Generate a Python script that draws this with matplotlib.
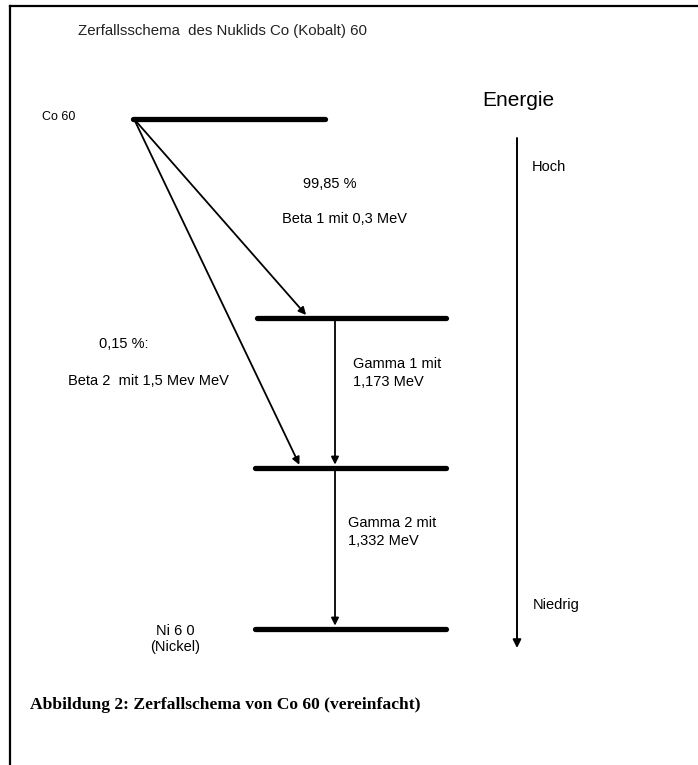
import matplotlib
matplotlib.use("Agg")
import matplotlib.pyplot as plt

# energy levels of the decay scheme (pixel-like diagram coordinates)
level_names = ["Co 60", "Ni 60*", "Ni 60*", "Ni 60"]
level_y = [119, 318, 468, 629]
level_x0 = [133, 257, 255, 255]
level_x1 = [325, 446, 446, 446]

# beta decays from Co 60
beta_share = ["99,85 %", "0,15 %:"]
beta_text = ["Beta 1 mit 0,3 MeV", "Beta 2  mit 1,5 Mev MeV"]
beta_end_x = [307, 300]
beta_to = [1, 2]

# gamma transitions
gamma_labels = ["Gamma 1 mit\n1,173 MeV", "Gamma 2 mit\n1,332 MeV"]
gamma_x = 335
gamma_from = [1, 2]
gamma_to = [2, 3]

fig = plt.figure(figsize=(6.98, 7.65), dpi=100)
ax = fig.add_axes([0, 0, 1, 1])
ax.set_xlim(0, 698)
ax.set_ylim(765, 0)
ax.axis("off")

sans = "Liberation Sans"
fs = 10.5

# frame (top and left edges visible)
ax.plot([10, 698], [6, 6], color="black", lw=1.6)
ax.plot([10, 10], [6, 765], color="black", lw=1.6)

ax.text(78, 31, "Zerfallsschema  des Nuklids Co (Kobalt) 60", fontsize=10.8,
        family=sans, color="#222222", va="center")

# levels
ax.hlines(level_y, level_x0, level_x1, colors="black", lw=3.8, capstyle="round")

arrow = dict(arrowstyle="-|>", color="black", lw=1.3, mutation_scale=11, shrinkA=0, shrinkB=1)

for ex, lv in zip(beta_end_x, beta_to):
    ax.annotate("", xy=(ex, level_y[lv] - 2), xytext=(level_x0[0] + 1, level_y[0]),
                arrowprops=arrow)

for a, b in zip(gamma_from, gamma_to):
    ax.annotate("", xy=(gamma_x, level_y[b] - 2), xytext=(gamma_x, level_y[a]),
                arrowprops=arrow)

ax.text(42, 117, level_names[0], fontsize=9, family=sans, va="center")
ax.text(175, 639, "Ni 6 0\n(Nickel)", fontsize=fs, family=sans, va="center",
        ha="center", linespacing=1.15)

ax.text(330, 184, beta_share[0], fontsize=fs, family=sans, va="center", ha="center")
ax.text(344, 219, beta_text[0], fontsize=fs, family=sans, va="center", ha="center")
ax.text(124, 344, beta_share[1], fontsize=fs, family=sans, va="center", ha="center")
ax.text(148, 381, beta_text[1], fontsize=fs, family=sans, va="center", ha="center")
ax.text(353, 373, gamma_labels[0], fontsize=fs, family=sans, va="center",
        linespacing=1.3)
ax.text(348, 532, gamma_labels[1], fontsize=fs, family=sans, va="center",
        linespacing=1.3)

# energy axis
ax.text(482, 100, "Energie", fontsize=15, family=sans, va="center")
ax.annotate("", xy=(517, 648), xytext=(517, 138),
            arrowprops=dict(arrowstyle="-|>", color="black", lw=1.4,
                            mutation_scale=12, shrinkA=0, shrinkB=0))
ax.text(532, 167, "Hoch", fontsize=fs, family=sans, va="center")
ax.text(533, 605, "Niedrig", fontsize=fs, family=sans, va="center")

ax.text(30, 705, "Abbildung 2: Zerfallschema von Co 60 (vereinfacht)", fontsize=12.6,
        family="Liberation Serif", weight="bold", va="center")

fig.savefig("out.png", dpi=100, facecolor="white")
